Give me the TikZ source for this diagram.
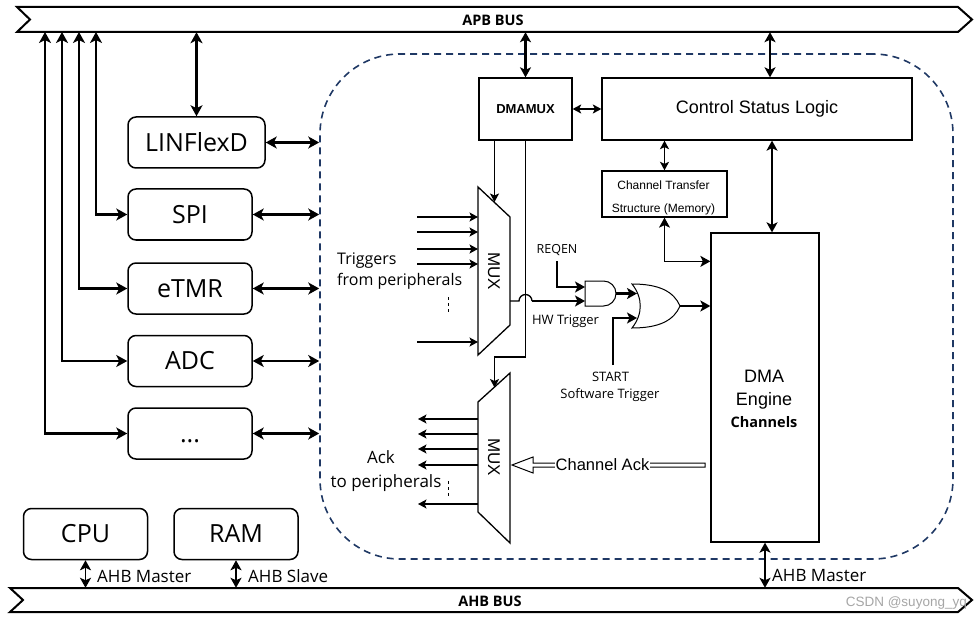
\documentclass[tikz,border=0pt]{standalone}
\usepackage{fontspec}
\setmainfont{Open Sans}
\newfontfamily\arialf{Liberation Sans}
\usetikzlibrary{arrows.meta}
\newcommand\fsz[2]{\fontsize{#1}{#2}\selectfont}
\definecolor{navy}{HTML}{1F3864}
\tikzset{
  BigT/.tip={Stealth[length=11pt,width=12pt,inset=3pt]},
  MedT/.tip={Stealth[length=10pt,width=11pt,inset=2.5pt]},
  SmT/.tip={Stealth[length=8.5pt,width=9pt,inset=2pt]},
  thk/.style={line width=2.5pt},
  med/.style={line width=1.8pt},
  thn/.style={line width=1.3pt},
  bus/.style={draw, line width=2pt, fill=white},
  periph/.style={draw, line width=1.5pt, rounded corners=8pt, minimum height=51pt,
    minimum width=124pt, inner sep=0pt, font=\fsz{25}{30}},
  blk/.style={draw, line width=1.3pt, inner sep=0pt},
  gate/.style={draw, line width=1pt, fill=white},
  lbl/.style={inner sep=0pt, anchor=base},
}
\begin{document}
\begin{tikzpicture}[x=1pt,y=-1pt]
\useasboundingbox (0,0) rectangle (976,620);

% ---------- buses ----------
\node[minimum width=955pt, minimum height=25pt, inner sep=0pt] (apb) at (494.5,19.5) {};
\draw[bus] (17,7) -- (958,7) -- (972,19.5) -- (958,32) -- (17,32) -- (30,19.5) -- cycle;
\node[font=\bfseries\fsz{14.5}{16}] (apblbl) at (493,20) {APB BUS};

\node[minimum width=962pt, minimum height=24pt, inner sep=0pt] (ahb) at (491,600) {};
\draw[bus] (10,588) -- (958,588) -- (972,600) -- (958,612) -- (10,612) -- (23,600) -- cycle;
\node[font=\bfseries\fsz{14.5}{16}] (ahblbl) at (490,601) {AHB BUS};
\node[font=\arialf\fsz{13.5}{16}, text=black!35, anchor=east, inner sep=0pt] (wm) at (967,603) {CSDN @suyong\_yq};

% ---------- DMA dashed region ----------
\node[draw=navy, line width=1.6pt, dash pattern=on 7pt off 5pt, rounded corners=80pt,
  minimum width=633pt, minimum height=505pt, inner sep=0pt] (dmabox) at (636.5,306.5) {};

% ---------- peripherals ----------
\node[periph, minimum width=137pt] (lin) at (196.5,142.5) {LINFlexD};
\node[periph] (spi) at (190,214.5) {SPI};
\node[periph] (etmr) at (190,288.5) {eTMR};
\node[periph] (adc) at (190,361) {ADC};
\node[periph] (more) at (190,433.5) {\vphantom{A}...};
\node[periph] (cpu) at (85.5,534) {CPU};
\node[periph] (ram) at (236,534) {RAM};

\coordinate (t1) at (96,32);
\coordinate (t2) at (79,32);
\coordinate (t3) at (62,32);
\coordinate (t4) at (45,32);
\draw[thk, BigT-BigT] (lin.north) -- (lin.north |- apb.south);
\draw[thk, BigT-BigT] (t1) |- (spi.west);
\draw[thk, BigT-BigT] (t2) |- (etmr.west);
\draw[thk, BigT-BigT] (t3) |- (adc.west);
\draw[thk, BigT-BigT] (t4) |- (more.west);

\foreach \p in {lin,spi,etmr,adc,more}
  \draw[thk, BigT-BigT] (\p.east) -- (\p.east -| dmabox.west);

\draw[med, MedT-MedT] (cpu.south) -- (cpu.south |- ahb.north);
\draw[med, MedT-MedT] (ram.south) -- (ram.south |- ahb.north);
\node[lbl, anchor=base west, font=\fsz{17}{20}] (cpuahb) at (97,582) {AHB Master};
\node[lbl, anchor=base west, font=\fsz{17}{20}] (ramahb) at (248,582) {AHB Slave};

% ---------- DMA blocks ----------
\node[blk, minimum width=93pt, minimum height=62pt, font=\arialf\bfseries\fsz{13}{15}] (dmamux) at (525.5,109) {DMAMUX};
\node[blk, minimum width=310pt, minimum height=62pt, font=\arialf\fsz{18}{22}] (csl) at (757,109) {Control Status Logic};
\node[blk, minimum width=125pt, minimum height=46pt] (cts) at (664.5,194) {};
\node[lbl, font=\arialf\fsz{12}{14}] (cts1) at (663.5,190) {Channel Transfer};
\node[lbl, font=\arialf\fsz{12}{14}] (cts2) at (663.5,212.5) {Structure (Memory)};
\node[blk, minimum width=108pt, minimum height=309pt] (eng) at (765,387.5) {};
\node[lbl, font=\arialf\fsz{18}{22}] (eng1) at (764,382) {DMA};
\node[lbl, font=\arialf\fsz{18}{22}] (eng2) at (764,405.5) {Engine};
\node[lbl, font=\bfseries\fsz{14.5}{17}] (eng3) at (764,427) {Channels};

\draw[thk, MedT-MedT] (dmamux.north) -- (dmamux.north |- apb.south);
\draw[thk, MedT-MedT] ([xshift=13pt]csl.north) -- ([xshift=13pt]csl.north |- apb.south);
\draw[med, SmT-SmT] (dmamux.east) -- (csl.west);
\draw[med, SmT-SmT] (cts.north) -- (cts.north |- csl.south);
\draw[med, MedT-MedT] ([xshift=7pt]eng.north) -- ([xshift=7pt]eng.north |- csl.south);
\draw[thn, MedT-MedT] (cts.south) |- ([yshift=-29pt]eng.north west);
\draw[med, MedT-MedT] (eng.south) -- (eng.south |- ahb.north);
\node[lbl, anchor=base west, font=\fsz{17}{20}] (engahb) at (772,581) {AHB Master};

% ---------- multiplexers ----------
\draw[line width=1.3pt] (478,187) -- (510,217) -- (510,325) -- (478,355) -- cycle;
\node[rotate=-90, font=\arialf\fsz{17}{20}, inner sep=0pt] (mux1) at (494,271) {MUX};
\draw[line width=1.3pt] (478,402) -- (510,373) -- (510,543) -- (478,512) -- cycle;
\node[rotate=-90, font=\arialf\fsz{17}{20}, inner sep=0pt] (mux2) at (494,457) {MUX};

\coordinate (m1top) at (494.5,202);
\coordinate (m2bend) at (494.5,357);
\coordinate (m2top) at (494.5,387.5);
\draw[thn, -SmT] ([xshift=-31pt]dmamux.south) -- (m1top);
\draw[thn, -SmT] (dmamux.south) |- (m2bend) -- (m2top);

\foreach \y in {217,232,249,264,342}
  \draw[thn, -SmT] (417,\y) -- (478,\y);
\foreach \y in {419,434,449,465,504}
  \draw[thn, -SmT] (478,\y) -- (418,\y);
\draw[line width=1pt, dash pattern=on 3pt off 3pt] (448,297) -- (448,312);
\draw[line width=1pt, dash pattern=on 3pt off 3pt] (448,481) -- (448,496);

\node[lbl, anchor=base west, font=\fsz{16}{20}] (trig1) at (337,264) {Triggers};
\node[lbl, anchor=base west, font=\fsz{16}{20}] (trig2) at (337,285) {from peripherals};
\node[lbl, font=\fsz{17}{20}] (ack1) at (381,463) {Ack};
\node[lbl, font=\fsz{17}{20}] (ack2) at (386,487) {to peripherals};

% ---------- gates ----------
\coordinate (andA) at (585,287);
\coordinate (andB) at (585,301);
\coordinate (andY) at (616,293.5);
\coordinate (orA) at (637,293.5);
\coordinate (orB) at (637,318);
\coordinate (orY) at (680,306);
\draw[gate] (585,281) -- (603.5,281) arc[start angle=-90, end angle=90, radius=12.5] -- (585,306) -- cycle;
\draw[gate] (632,284) .. controls (660,284) and (674,292) .. (680,306)
  .. controls (674,320) and (660,328) .. (632,328)
  .. controls (643,314) and (643,298) .. (632,284) -- cycle;

\node[lbl, font=\fsz{12.5}{15}] (reqen) at (557,253) {REQEN};
\node[lbl, font=\fsz{13}{15}] (hwt) at (565.5,324) {HW Trigger};
\node[lbl, font=\fsz{13}{15}] (start) at (610.5,381) {START};
\node[lbl, font=\fsz{13}{15}] (swt) at (610,398) {Software Trigger};

\coordinate (m1out) at (510,301);
\coordinate (hopL) at (519,301);
\coordinate (hopR) at (532,301);
\coordinate (reqtop) at (557,261);
\coordinate (starttop) at (613,365);
\draw[thn] (m1out) -- (hopL) arc[start angle=180, end angle=360, radius=6.5];
\draw[thk, -MedT] (hopR) -- (andB);
\draw[thk, -MedT] (reqtop) |- (andA);
\draw[thk, -MedT] (andY) -- (orA);
\draw[thk, -MedT] (starttop) |- (orB);
\draw[thk, -MedT] (orY) -- (orY -| eng.west);

% ---------- channel ack ----------
\draw[line width=1pt, fill=white] (705,463) -- (533,463) -- (533,457) -- (512,465) -- (533,473)
  -- (533,467) -- (705,467) -- cycle;
\node[fill=white, inner sep=1pt, font=\arialf\fsz{16.5}{19}] (chack) at (602.5,465) {Channel Ack};

\end{tikzpicture}
\end{document}
